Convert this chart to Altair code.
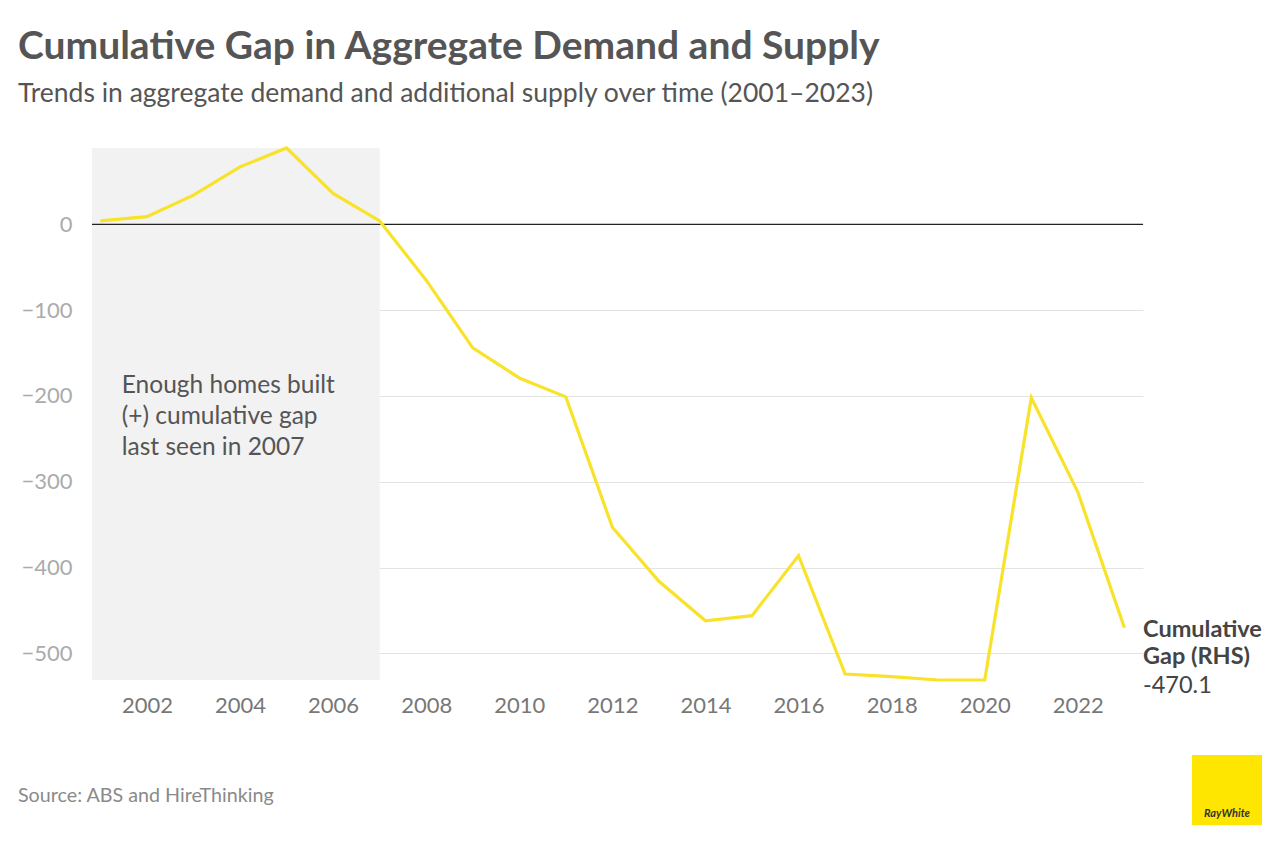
import altair as alt
import pandas as pd

years = list(range(2001, 2024))
gap = [4, 9, 34, 67, 89, 36, 4, -65, -144, -179, -201, -353, -416, -462, -456,
       -386, -524, -527, -531, -531, -202, -312, -470.1]

x_ticks = list(range(2002, 2023, 2))
y_ticks = [0, -100, -200, -300, -400, -500]
x_domain = [2000.82, 2023.4]
y_domain = [-531, 89]
shade_years = [2000.82, 2007]

annotation_text = "Enough homes built\n(+) cumulative gap\nlast seen in 2007"
end_label = "Cumulative\nGap (RHS)"
end_value = "-470.1"
source_text = "Source: ABS and HireThinking"

W, H = 1051, 532
FONT = "Lato"

df = pd.DataFrame({"year": years, "gap": gap})

xs = alt.Scale(domain=x_domain, nice=False, zero=False)
ys = alt.Scale(domain=y_domain, nice=False, zero=False)

x_axis = alt.Axis(values=x_ticks, format="d", grid=False, domain=False, ticks=False,
                  labelFontSize=22, labelColor="#777777", labelFont=FONT, labelPadding=15)
y_axis = alt.Axis(values=y_ticks, grid=True, gridColor="#e3e3e3", gridWidth=1,
                  domain=False, ticks=False, labelFontSize=22,
                  labelColor="#ababab", labelFont=FONT, labelPadding=20)


def xe(field):
    return alt.X(field, type="quantitative", scale=xs, title=None, axis=x_axis)


def ye(field):
    return alt.Y(field, type="quantitative", scale=ys, title=None, axis=y_axis)


shade = alt.Chart(pd.DataFrame({"year": [shade_years[0]], "x1": [shade_years[1]]})).mark_rect(
    color="#f2f2f2"
).encode(
    x=xe("year"),
    x2="x1:Q",
    y=alt.value(0),
    y2=alt.value(H),
)

zero_rule = alt.Chart(pd.DataFrame({"gap": [0]})).mark_rule(color="#222222", strokeWidth=1.3).encode(
    y=ye("gap")
)

line = alt.Chart(df).mark_line(color="#F8E22A", strokeWidth=3.2).encode(
    x=xe("year"), y=ye("gap")
)

annot = alt.Chart(pd.DataFrame({"year": [2001.46], "gap": [-188], "t": [annotation_text]})).mark_text(
    align="left", baseline="middle", fontSize=24.5, font=FONT, color="#555555",
    lineBreak="\n", lineHeight=31
).encode(
    x=xe("year"),
    y=ye("gap"),
    text="t:N",
)

end_lbl = alt.Chart(pd.DataFrame({"gap": [gap[-1]], "t": [end_label]})).mark_text(
    align="left", baseline="middle", fontSize=23.5, font=FONT, color="#444444",
    fontWeight="bold", lineBreak="\n", lineHeight=27, dy=2
).encode(
    x=alt.value(W),
    y=ye("gap"),
    text="t:N",
)

end_val = alt.Chart(pd.DataFrame({"gap": [gap[-1]], "t": [end_value]})).mark_text(
    align="left", baseline="middle", fontSize=23.5, font=FONT, color="#444444", dy=58
).encode(
    x=alt.value(W),
    y=ye("gap"),
    text="t:N",
)

source = alt.Chart(pd.DataFrame({"t": [source_text]})).mark_text(
    align="left", baseline="alphabetic", fontSize=19.7, font=FONT, color="#8a8a8a"
).encode(x=alt.value(-74), y=alt.value(654), text="t:N")

logo_box = alt.Chart(pd.DataFrame({"a": [1]})).mark_rect(color="#FFE600").encode(
    x=alt.value(1100), x2=alt.value(1170), y=alt.value(607), y2=alt.value(677)
)
logo_text = alt.Chart(pd.DataFrame({"t": ["RayWhite"]})).mark_text(
    align="center", baseline="alphabetic", fontSize=11, font=FONT, fontWeight="bold",
    fontStyle="italic", color="#333333"
).encode(x=alt.value(1135), y=alt.value(669), text="t:N")

chart = alt.layer(
    shade, zero_rule, line, annot, end_lbl, end_val, source, logo_box, logo_text
).properties(
    width=W, height=H,
    title=alt.TitleParams(
        text="Cumulative Gap in Aggregate Demand and Supply",
        subtitle="Trends in aggregate demand and additional supply over time (2001–2023)",
        anchor="start", frame="group", dx=-74, offset=34,
        font=FONT, fontSize=39, fontWeight="bold", color="#555555",
        subtitleFont=FONT, subtitleFontSize=26.5, subtitleColor="#555555",
        subtitlePadding=14,
    ),
    padding={"left": 84, "top": 140, "right": 120, "bottom": 160},
    autosize=alt.AutoSizeParams(type="none"),
).configure_view(stroke=None)

chart.save("out.html", embed_options={"renderer": "svg", "actions": False})
